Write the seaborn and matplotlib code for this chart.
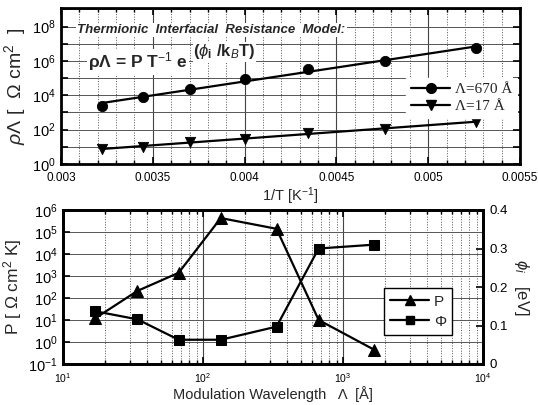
import numpy as np
import pandas as pd
import matplotlib
matplotlib.use("Agg")
import matplotlib.pyplot as plt
import seaborn as sns
from matplotlib.ticker import MultipleLocator, FixedLocator, NullFormatter, LogLocator
from matplotlib.lines import Line2D

# ---------------- data ----------------
inv_T = [0.003226, 0.003448, 0.003704, 0.004000, 0.004348, 0.004762, 0.005263]
rho_670 = [2.45e3, 8.0e3, 2.3e4, 9.0e4, 3.3e5, 9.6e5, 5.5e6]
rho_17 = [7.5, 10.0, 19.0, 30.0, 66.0, 110.0, 280.0]

wavelength = [17, 34, 67, 134, 335, 670, 1675]
P_vals = [12, 210, 1400, 4.3e5, 1.4e5, 10, 0.44]
phi_vals = [0.137, 0.116, 0.063, 0.063, 0.097, 0.300, 0.310]

top_yticks_exp = [0, 2, 4, 6, 8]
bot_xticks_exp = [1, 2, 3, 4]
bot_yticks_exp = [-1, 0, 1, 2, 3, 4, 5, 6]
right_yticks = [0, 0.1, 0.2, 0.3, 0.4]

# ---------------- style ----------------
sns.set_theme(style="ticks")
plt.rcParams['font.family'] = ['Liberation Sans', 'DejaVu Sans']
plt.rcParams['mathtext.fontset'] = 'custom'
plt.rcParams['mathtext.rm'] = 'Liberation Sans'
plt.rcParams['mathtext.it'] = 'Liberation Sans:italic'
plt.rcParams['mathtext.bf'] = 'Liberation Sans:bold'

fig = plt.figure(figsize=(5.38, 4.05), dpi=100)
ax1 = fig.add_axes([61/538, 1-164/405, (520-61)/538, (164-8)/405])
ax2 = fig.add_axes([63/538, 1-364/405, (483-63)/538, (364-210)/405])

# ---------------- top panel ----------------
df_top = pd.DataFrame({"x": inv_T * 2,
                       "y": rho_670 + rho_17,
                       "s": ["670"] * len(inv_T) + ["17"] * len(inv_T)})
for key, mk in [("670", "o"), ("17", "v")]:
    d = df_top[df_top.s == key]
    coef = np.polyfit(d.x, np.log10(d.y), 1)
    xx = np.array([d.x.min(), d.x.max()])
    ax1.plot(xx, 10 ** np.polyval(coef, xx), color="black", lw=1.6, zorder=3)
    sns.scatterplot(data=d, x="x", y="y", marker=mk, s=55, color="black",
                    edgecolor="black", ax=ax1, zorder=4, legend=False)

ax1.set_yscale("log")
ax1.set_xlim(0.003, 0.0055)
ax1.set_ylim(1, 1.2e9)
ax1.xaxis.set_major_locator(FixedLocator([0.003, 0.0035, 0.004, 0.0045, 0.005, 0.0055]))
ax1.set_xticklabels(["0.003", "0.0035", "0.004", "0.0045", "0.005", "0.0055"])
ax1.xaxis.set_minor_locator(MultipleLocator(0.0001))
decs = [10.0 ** e for e in range(0, 10)]
ax1.yaxis.set_major_locator(FixedLocator(decs))
ax1.set_yticklabels([f"$10^{{{e}}}$" if e in top_yticks_exp else "" for e in range(0, 10)])
ax1.yaxis.set_minor_formatter(NullFormatter())
ax1.yaxis.set_minor_locator(FixedLocator([]))
ax1.grid(which="major", axis="x", color="#444444", lw=0.8, ls="-")
ax1.grid(which="minor", axis="x", color="#555555", lw=0.7, ls=":")
ax1.grid(which="major", axis="y", color="#555555", lw=0.7, ls="-")
ax1.tick_params(which="both", direction="in", top=True, right=True, colors="black")
ax1.tick_params(which="major", length=5, width=1.2)
ax1.tick_params(which="minor", length=3, width=1)
ax1.tick_params(axis="x", which="both", labelsize=8.5, pad=6)
ax1.tick_params(axis="y", labelsize=10.5, pad=4)
for sp in ax1.spines.values():
    sp.set_linewidth(2)
    sp.set_color("black")
ax1.set_xlabel("1/T [K$^{-1}$]", fontsize=10.5, labelpad=1)
ax1.set_ylabel(r"$\rho\Lambda$ [  $\Omega$ cm$^{2}$  ]", fontsize=14, labelpad=3)

ax1.text(0.035, 0.859, "Thermionic  Interfacial  Resistance  Model:", transform=ax1.transAxes,
         fontsize=9.5, style="italic", weight="bold", va="center", ha="left",
         bbox=dict(facecolor="white", edgecolor="none", pad=1), zorder=5)
ax1.text(0.059, 0.654, r"ρΛ = P T$^{-1}$ e", transform=ax1.transAxes,
         fontsize=12.5, weight="bold", va="center", ha="left",
         bbox=dict(facecolor="white", edgecolor="none", pad=1), zorder=5)
ax1.text(0.288, 0.72, r"($\phi_{\mathbf{i}}$ /k$_{B}$T)", transform=ax1.transAxes,
         fontsize=12, weight="bold", va="center", ha="left",
         bbox=dict(facecolor="white", edgecolor="none", pad=0.5), zorder=5)

h1 = [Line2D([], [], color="black", lw=1.6, marker="o", ms=7),
      Line2D([], [], color="black", lw=1.6, marker="v", ms=7)]
leg1 = ax1.legend(h1, ["Λ=670 Å", "Λ=17 Å"], loc="upper right", bbox_to_anchor=(1.01, 0.6),
                  frameon=True, fancybox=False, edgecolor="white", framealpha=1,
                  prop={"family": "Liberation Serif", "size": 11},
                  handlelength=2.6, handletextpad=0.3, borderpad=0.3, labelspacing=0.2)
leg1.set_zorder(6)

# ---------------- bottom panel ----------------
df_bot = pd.DataFrame({"L": wavelength, "P": P_vals, "phi": phi_vals})
sns.lineplot(data=df_bot, x="L", y="P", marker="^", markersize=8, color="black",
             lw=1.6, ax=ax2, markeredgecolor="black", zorder=4)
ax2.set_xscale("log")
ax2.set_yscale("log")
ax2.set_xlim(10, 1e4)
ax2.set_ylim(0.1, 1e6)
ax2.xaxis.set_major_locator(FixedLocator([10.0 ** e for e in bot_xticks_exp]))
ax2.set_xticklabels([f"$10^{{{e}}}$" for e in bot_xticks_exp])
ax2.xaxis.set_minor_locator(LogLocator(base=10, subs=np.arange(2, 10), numticks=20))
ax2.xaxis.set_minor_formatter(NullFormatter())
ax2.yaxis.set_major_locator(FixedLocator([10.0 ** e for e in bot_yticks_exp]))
ax2.set_yticklabels([f"$10^{{{e}}}$" for e in bot_yticks_exp])
ax2.yaxis.set_minor_locator(FixedLocator([]))
ax2.grid(which="major", axis="x", color="#444444", lw=0.8, ls="-")
ax2.grid(which="minor", axis="x", color="#555555", lw=0.7, ls=":")
ax2.grid(which="major", axis="y", color="#555555", lw=0.7, ls="-")
ax2.tick_params(which="both", direction="in", top=True, colors="black")
ax2.tick_params(which="major", length=5, width=1.2)
ax2.tick_params(which="minor", length=3, width=1)
ax2.tick_params(axis="x", which="both", labelsize=7.5, pad=5)
ax2.tick_params(axis="y", labelsize=10.5, pad=4)
ax2.set_xlabel("Modulation Wavelength   Λ  [Å]", fontsize=10.5, labelpad=1)
ax2.set_ylabel("P [ Ω cm$^{2}$ K]", fontsize=12.5, labelpad=3)

ax3 = ax2.twinx()
sns.lineplot(data=df_bot, x="L", y="phi", marker="s", markersize=7, color="black",
             lw=1.6, ax=ax3, markeredgecolor="black", zorder=4)
ax3.set_ylim(0, 0.4)
ax3.yaxis.set_major_locator(FixedLocator(right_yticks))
ax3.set_yticklabels(["0", "0.1", "0.2", "0.3", "0.4"])
ax3.tick_params(axis="y", direction="in", length=5, width=1.2, labelsize=9.5, colors="black", pad=5)
ax3.set_ylabel(r"$\phi_{i}$   [eV]", fontsize=12, rotation=-90, labelpad=16)
ax3.set_xlabel("")
for a in (ax2, ax3):
    for sp in a.spines.values():
        sp.set_linewidth(2)
        sp.set_color("black")

h2 = [Line2D([], [], color="black", lw=1.6, marker="^", ms=7),
      Line2D([], [], color="black", lw=1.6, marker="s", ms=6)]
leg2 = ax3.legend(h2, ["P", "Φ"], loc="upper left", bbox_to_anchor=(0.745, 0.54),
                  frameon=True, fancybox=False, edgecolor="black", framealpha=1,
                  fontsize=11, handlelength=2.6, handletextpad=0.3, borderpad=0.4,
                  labelspacing=0.4)
leg2.get_frame().set_linewidth(1)

fig.savefig("out.png", dpi=100)
